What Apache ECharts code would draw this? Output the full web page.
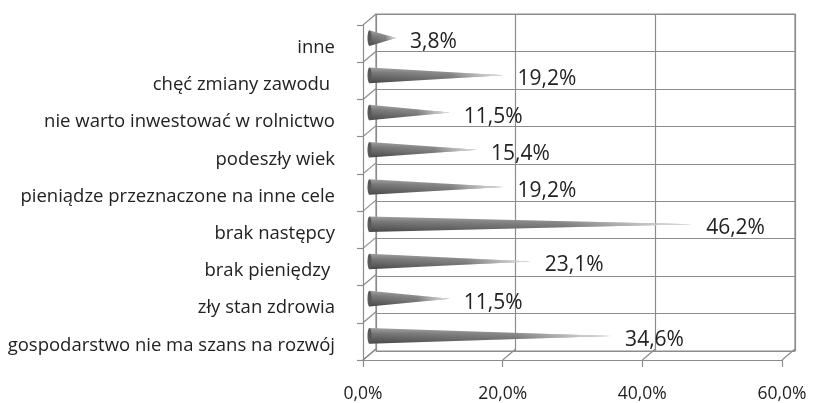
<!DOCTYPE html>
<html><head><meta charset="utf-8">
<script src="https://cdn.jsdelivr.net/npm/echarts@6/dist/echarts.min.js"></script>
<style>html,body{margin:0;padding:0;background:#fff}#c{width:821px;height:403px}</style>
</head><body><div id="c"></div>
<script>
const categories = ["gospodarstwo nie ma szans na rozwój", "zły stan zdrowia", "brak pieniędzy ", "brak następcy", "pieniądze przeznaczone na inne cele", "podeszły wiek", "nie warto inwestować w rolnictwo", "chęć zmiany zawodu ", "inne"];
const values = [34.6, 11.5, 23.1, 46.2, 19.2, 15.4, 11.5, 19.2, 3.8];
const xTicks = [0, 20, 40, 60];

const DX = 13, DY = -11;          // depth offset of back wall
const MX = DX / 2, MY = DY / 2;   // cones sit at mid depth
const LINE = '#8c8c8c';
const FONT = '"Open Sans", sans-serif';
const fmt = v => v.toFixed(1).replace('.', ',') + '%';

const chart = echarts.init(document.getElementById('c'));

function renderCone(params, api) {
  const v = api.value(0), k = api.value(1);
  const p0 = api.coord([0, k]), p1 = api.coord([v, k]);
  const band = api.size([0, 1])[1];
  const h = band * 0.21;
  const x0 = p0[0] + MX, x1 = p1[0] + MX, cy = p0[1] + MY;
  const pts = [[x0, cy - h], [x1, cy], [x0, cy + h]];
  return {
    type: 'group',
    children: [
      { type: 'polygon', shape: { points: pts },
        style: { fill: new echarts.graphic.LinearGradient(0, 0, 0, 1, [
          { offset: 0, color: '#a0a0a0' }, { offset: 0.35, color: '#767676' },
          { offset: 0.75, color: '#5a5a5a' }, { offset: 1, color: '#474747' }]) } },
      { type: 'polygon', shape: { points: pts },
        style: { fill: new echarts.graphic.LinearGradient(0, 0, 1, 0, [
          { offset: 0, color: 'rgba(255,255,255,0)' }, { offset: 0.6, color: 'rgba(255,255,255,0.15)' },
          { offset: 1, color: 'rgba(255,255,255,0.85)' }]) } },
      { type: 'ellipse', shape: { cx: x0, cy: cy, rx: 2, ry: h },
        style: { fill: '#585858' } },
      { type: 'text', x: x1 + 14, y: cy + 4,
        style: { text: fmt(v), font: '21px ' + FONT, fill: '#222',
                 align: 'left', verticalAlign: 'middle' } }
    ]
  };
}

function renderWallDiag(params, api) {
  const k = api.value(1);
  const p = api.coord([0, k]);
  const band = api.size([0, 1])[1];
  const ys = [p[1] - band / 2];
  if (k === 0) ys.push(p[1] + band / 2);
  return {
    type: 'group',
    children: ys.map(y => ({ type: 'line',
      shape: { x1: p[0], y1: y, x2: p[0] + DX, y2: y + DY },
      style: { stroke: LINE, lineWidth: 1.2 } }))
  };
}

function renderFloorDiag(params, api) {
  const t = api.value(0);
  const p = api.coord([t, 0]);
  const band = api.size([0, 1])[1];
  const y = p[1] + band / 2;
  return { type: 'line', shape: { x1: p[0], y1: y, x2: p[0] + DX, y2: y + DY },
           style: { stroke: LINE, lineWidth: 1.2 } };
}

chart.setOption({
  animation: false,
  grid: [
    { left: 363, right: 39, top: 25, bottom: 41 },
    { left: 363 + DX, right: 39 - DX, top: 25 + DY, bottom: 41 - DY,
      show: true, borderColor: LINE, borderWidth: 1.2 }
  ],
  xAxis: [
    { type: 'value', gridIndex: 0, min: 0, max: 60, interval: 20,
      axisLine: { show: true, lineStyle: { color: LINE, width: 1.2 } },
      axisTick: { show: true, length: 7, lineStyle: { color: LINE, width: 1.2 } },
      splitLine: { show: false },
      axisLabel: { formatter: v => fmt(v), margin: 25, color: '#222', fontSize: 17.5,
                   fontFamily: FONT } },
    { type: 'value', gridIndex: 1, min: 0, max: 60, interval: 20,
      axisLine: { show: false }, axisTick: { show: false }, axisLabel: { show: false },
      splitLine: { show: true, lineStyle: { color: LINE, width: 1.2 } } }
  ],
  yAxis: [
    { type: 'category', gridIndex: 0, data: categories,
      axisLine: { show: true, lineStyle: { color: LINE, width: 1.2 } },
      axisTick: { show: true, length: 6, lineStyle: { color: LINE, width: 1.2 } },
      splitLine: { show: false },
      axisLabel: { margin: 28, color: '#222', fontSize: 18.5, fontFamily: FONT,
                   verticalAlign: 'top', lineHeight: 8 } },
    { type: 'category', gridIndex: 1, data: categories,
      axisLine: { show: false }, axisTick: { show: false }, axisLabel: { show: false },
      splitLine: { show: true, lineStyle: { color: LINE, width: 1.2 } } }
  ],
  series: [
    { type: 'custom', xAxisIndex: 0, yAxisIndex: 0, renderItem: renderWallDiag,
      data: categories.map((c, i) => [0, i]), z: 1, silent: true },
    { type: 'custom', xAxisIndex: 0, yAxisIndex: 0, renderItem: renderFloorDiag,
      data: xTicks.map(t => [t, 0]), z: 1, silent: true },
    { type: 'custom', xAxisIndex: 0, yAxisIndex: 0, renderItem: renderCone,
      data: values.map((v, i) => [v, i]), z: 3 }
  ]
});
</script>
</body></html>
